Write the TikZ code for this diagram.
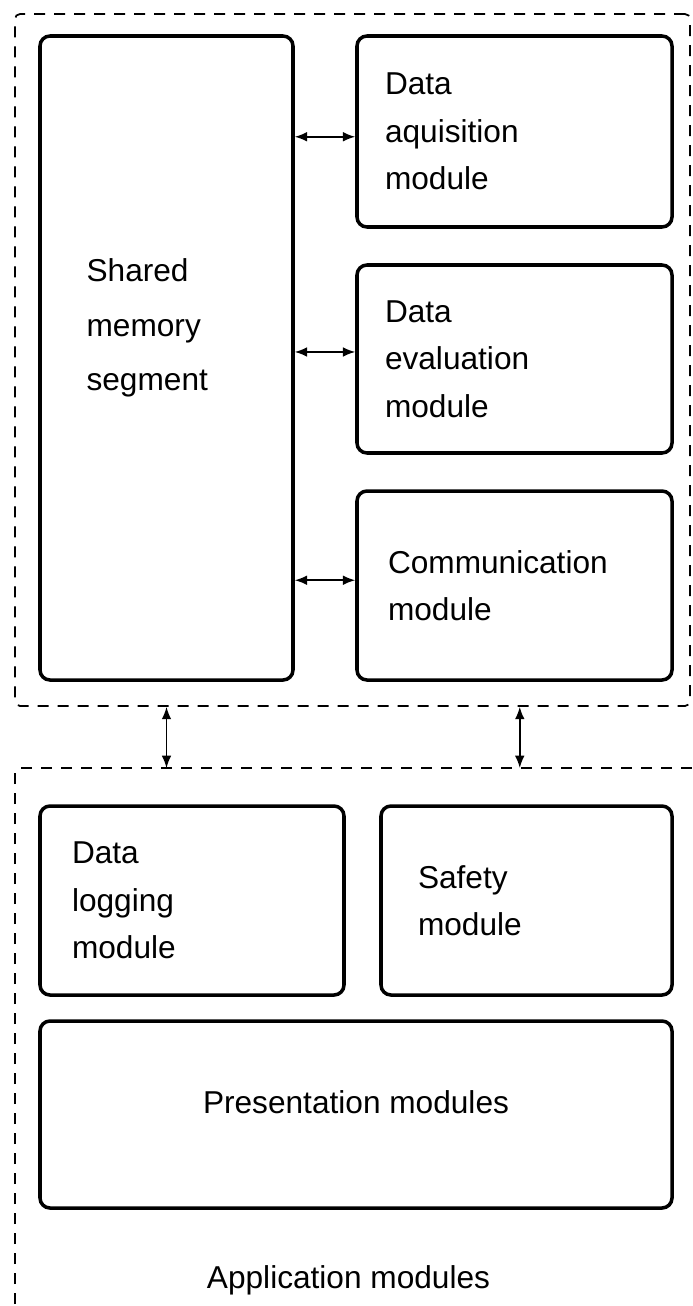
\documentclass[tikz,border=0pt]{standalone}
\usepackage{fontspec}
\setmainfont{Liberation Sans}
\usetikzlibrary{arrows.meta}

\begin{document}
\begin{tikzpicture}[
    box/.style={draw, rectangle, rounded corners=0.2cm, line width=2pt, align=left, inner xsep=0pt, font=\fontsize{18}{27}\selectfont},
    group_box/.style={draw, dash pattern=on 0.22cm off 0.18cm, line width=1pt, rounded corners=0.1cm},
    link/.style={{Latex[length=7pt,width=5.5pt]}-{Latex[length=7pt,width=5.5pt]}, line width=0.9pt},
    body_text/.style={font=\fontsize{18}{27}\selectfont, align=left, inner sep=0pt}
]
\useasboundingbox (0,0) rectangle (13.86,-26.12);

% Kern
\node[group_box, minimum width=13.5cm, minimum height=13.84cm] (core) at (7.05,-7.20) {};
\node[box, minimum width=5.06cm, minimum height=12.88cm] (mem) at (3.33,-7.16) {};
\node[body_text, anchor=west, font=\fontsize{18}{31}\selectfont] (memtxt) at ([xshift=0.96cm,yshift=0.6cm]mem.west) {Shared\\memory\\segment};
\node[box, minimum width=6.30cm, minimum height=3.82cm, text width=5.18cm] (acq) at (10.29,-2.63) {Data\\aquisition\\module};
\node[box, minimum width=6.30cm, minimum height=3.76cm, text width=5.18cm] (eval) at (10.29,-7.18) {Data\\evaluation\\module};
\node[box, minimum width=6.30cm, minimum height=3.78cm, text width=5.06cm] (comm) at (10.29,-11.71) {Communication\\module};

\draw[link] ([yshift=-3pt]acq.west -| mem.east) -- ([yshift=-3pt]acq.west);
\draw[link] ([yshift=4pt]eval.west -| mem.east) -- ([yshift=4pt]eval.west);
\draw[link] ([yshift=3pt]comm.west -| mem.east) -- ([yshift=3pt]comm.west);

% Anwendungen
\draw[group_box] (0.30,-26.08) -- (0.30,-15.36) coordinate (apptop) -- (13.92,-15.36);
\node[box, minimum width=6.08cm, minimum height=3.78cm, text width=4.80cm] (log) at (3.84,-18.01) {Data\\logging\\module};
\node[box, minimum width=5.82cm, minimum height=3.78cm, text width=4.34cm] (safe) at (10.53,-18.01) {Safety\\module};
\node[box, minimum width=12.64cm, minimum height=3.74cm, align=center, text depth=14pt] (pres) at (7.12,-22.29) {Presentation modules};
\node[body_text] (apptitle) at (6.97,-25.60) {Application modules};

\draw[link] (core.south -| mem) -- (apptop -| mem);
\draw[link] ([xshift=3pt]core.south -| comm) -- ([xshift=3pt]apptop -| comm);

\end{tikzpicture}
\end{document}
